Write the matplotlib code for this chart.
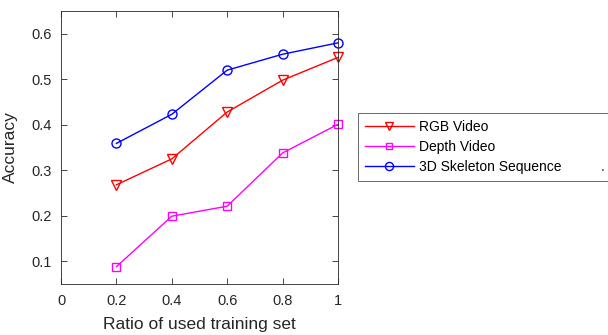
import numpy as np
import matplotlib.pyplot as plt

plt.rcParams['font.family'] = ['Liberation Sans', 'DejaVu Sans']

ratio = [0.2, 0.4, 0.6, 0.8, 1.0]
rgb = [0.268, 0.325, 0.428, 0.498, 0.548]
depth = [0.088, 0.199, 0.221, 0.338, 0.401]
skeleton = [0.359, 0.423, 0.520, 0.555, 0.580]
labels = ["RGB Video", "Depth Video", "3D Skeleton Sequence"]

W, H = 608, 335
fig = plt.figure(figsize=(W / 100, H / 100), dpi=100)
ax = fig.add_axes([61 / W, 1 - 284 / H, (338 - 61) / W, (284 - 11) / H])

ax.plot(ratio, rgb, color='red', marker='v', mfc='none', ms=7, lw=1, mew=1,
        label=labels[0], clip_on=False)
ax.plot(ratio, depth, color='magenta', marker='s', mfc='none', ms=5.5, lw=1, mew=1,
        label=labels[1], clip_on=False)
ax.plot(ratio, skeleton, color='blue', marker='o', mfc='none', ms=6.5, lw=1, mew=1,
        label=labels[2], clip_on=False)

ax.set_xlim(0, 1)
ax.set_ylim(0.05, 0.65)
ax.set_xticks([0, 0.2, 0.4, 0.6, 0.8, 1])
ax.set_xticklabels(['0', '0.2', '0.4', '0.6', '0.8', '1'])
ax.set_yticks([0.1, 0.2, 0.3, 0.4, 0.5, 0.6])
ax.tick_params(direction='in', top=True, right=True, length=4, width=0.6,
               colors='#262626', labelsize=10.5, pad=7)
for s in ax.spines.values():
    s.set_color('#262626')
    s.set_linewidth(0.6)
ax.set_xlabel('Ratio of used training set', fontsize=12.5, color='#262626', labelpad=7)
ax.set_ylabel('Accuracy', fontsize=12.5, color='#262626', labelpad=9)

leg = fig.legend(loc='lower left', bbox_to_anchor=(358 / W, 1 - 181 / H, 300 / W, 67 / H),
                 mode='expand', fontsize=10, frameon=True, fancybox=False,
                 handlelength=3.5, handletextpad=0.4, labelspacing=0.45,
                 borderpad=0.5, borderaxespad=0, markerscale=0.9)
leg.get_frame().set_edgecolor('#262626')
leg.get_frame().set_linewidth(0.6)
fig.text(603 / W, 1 - 171 / H, '.', fontsize=10, color='#262626',
         va='baseline', ha='center', zorder=10)

fig.savefig('out.png', dpi=100)
